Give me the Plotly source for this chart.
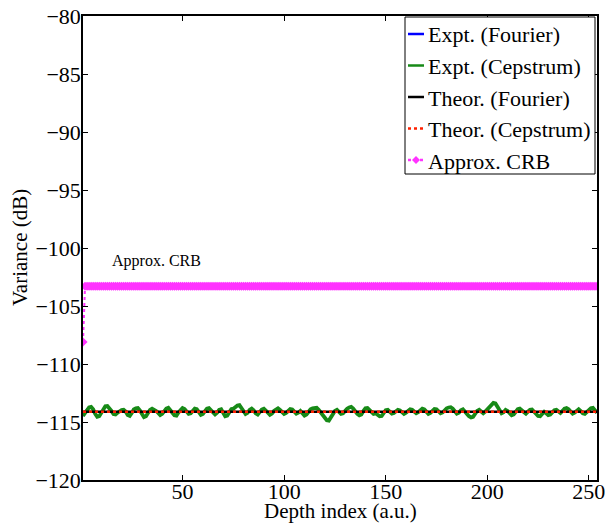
import plotly.graph_objects as go

depth_index = list(range(1, 255))

expt_cepstrum = [
    -114.48, -114.20, -113.90, -113.75, -113.70, -113.90, -114.30, -114.55, -114.50, -114.20,
    -113.90, -113.65, -113.62, -113.80, -114.05, -114.32, -114.35, -114.20, -114.08, -113.98,
    -113.95, -114.10, -114.40, -114.47, -114.22, -113.92, -113.82, -113.80, -114.00, -114.35,
    -114.58, -114.50, -114.20, -113.95, -113.85, -113.92, -114.05, -114.22, -114.40, -114.30,
    -114.05, -113.85, -113.78, -113.95, -114.20, -114.42, -114.45, -114.18, -113.92, -113.80,
    -113.88, -114.10, -114.30, -114.25, -114.00, -113.85, -113.90, -114.15, -114.38, -114.30,
    -114.02, -113.85, -113.80, -113.98, -114.22, -114.35, -114.20, -113.95, -113.90, -114.20,
    -114.50, -114.45, -114.15, -113.90, -113.85, -113.70, -113.58, -113.55, -113.75, -114.05,
    -114.30, -114.20, -113.95, -113.85, -114.00, -114.25, -114.35, -114.15, -113.92, -113.85,
    -113.98, -114.20, -114.38, -114.28, -114.05, -113.88, -113.82, -113.95, -114.15, -114.30,
    -114.22, -114.00, -113.88, -113.92, -114.12, -114.28, -114.20, -114.05, -114.25, -114.45,
    -114.35, -114.08, -113.90, -113.82, -113.80, -113.78, -113.95, -114.20, -114.45, -114.70,
    -114.85, -114.88, -114.60, -114.30, -114.05, -113.95, -114.08, -114.30, -114.25, -114.00,
    -113.85, -113.75, -113.70, -113.85, -114.10, -114.30, -114.42, -114.35, -114.05, -113.82,
    -113.80, -113.95, -114.15, -114.30, -114.25, -114.35, -114.50, -114.48, -114.20, -113.98,
    -113.95, -114.12, -114.28, -114.22, -114.05, -113.95, -114.00, -114.18, -114.30, -114.20,
    -114.00, -113.90, -113.95, -114.12, -114.25, -114.15, -113.95, -113.85, -113.92, -114.15,
    -114.30, -114.22, -114.02, -113.88, -113.90, -114.08, -114.25, -114.18, -113.95, -113.82,
    -113.75, -113.72, -113.85, -114.08, -114.28, -114.20, -113.98, -113.90, -114.05, -114.30,
    -114.50, -114.60, -114.55, -114.30, -114.05, -113.95, -114.10, -114.25, -114.10, -113.90,
    -113.70, -113.50, -113.35, -113.40, -113.70, -114.05, -114.25, -114.15, -113.95, -114.05,
    -114.30, -114.42, -114.35, -114.10, -113.90, -113.85, -114.00, -114.20, -114.28, -114.10,
    -113.95, -113.92, -114.10, -114.35, -114.48, -114.50, -114.30, -114.12, -114.25, -114.40,
    -114.35, -114.15, -113.98, -113.95, -114.10, -114.22, -114.05, -113.85, -113.80, -113.90,
    -114.10, -114.28, -114.20, -114.00, -113.90, -114.05, -114.25, -114.30, -114.10, -113.92,
    -113.82, -113.78, -113.95, -114.20,
]
expt_fourier = list(expt_cepstrum)

theor_level = -114.12
theor_fourier = [theor_level] * len(depth_index)
theor_cepstrum = [theor_level] * len(depth_index)

crb_first = -108.1
crb_level = -103.3
approx_crb = [crb_first] + [crb_level] * (len(depth_index) - 1)

y_ticks = [-120, -115, -110, -105, -100, -95, -90, -85, -80]
x_ticks = [50, 100, 150, 200, 250]

series_names = ["Expt. (Fourier)", "Expt. (Cepstrum)", "Theor. (Fourier)",
                "Theor. (Cepstrum)", "Approx. CRB"]
series_colors = ["#0000ff", "#178a17", "black", "#ff2000", "#ff33ff"]
series_dash = ["solid", "solid", "solid", "dot", "dot"]

FONT = "Liberation Serif, Times New Roman, serif"
MINUS = "\u2212"

W, H = 605, 525
ML, MR, MT, MB = 83, 8, 16, 45
PW, PH = W - ML - MR, H - MT - MB


def px(xp):
    return (xp - ML) / PW


def py(yp):
    return (H - MB - yp) / PH


fig = go.Figure()
fig.add_trace(go.Scatter(x=depth_index, y=expt_fourier, mode="lines",
                         name=series_names[0], line=dict(color=series_colors[0], width=2)))
fig.add_trace(go.Scatter(x=depth_index, y=expt_cepstrum, mode="lines",
                         name=series_names[1], line=dict(color=series_colors[1], width=3.8)))
fig.add_trace(go.Scatter(x=depth_index, y=theor_fourier, mode="lines",
                         name=series_names[2], line=dict(color=series_colors[2], width=2.5)))
fig.add_trace(go.Scatter(x=depth_index, y=theor_cepstrum, mode="lines",
                         name=series_names[3], line=dict(color=series_colors[3], width=2.5, dash="dot")))
fig.add_trace(go.Scatter(x=depth_index, y=approx_crb, mode="lines+markers",
                         name=series_names[4],
                         line=dict(color=series_colors[4], width=2, dash="dot"),
                         marker=dict(symbol="diamond", size=7, color=series_colors[4])))

fig.add_annotation(x=37, y=-101.1, text="Approx. CRB", showarrow=False,
                   font=dict(family=FONT, size=16, color="black"))

# axis titles
fig.add_annotation(xref="paper", yref="paper", x=0.5, y=py(524.5), yanchor="bottom",
                   text="Depth index (a.u.)", showarrow=False,
                   font=dict(family=FONT, size=21, color="black"))
fig.add_annotation(xref="paper", yref="paper", x=px(20), y=0.5, xanchor="center",
                   textangle=-90, text="Variance (dB)", showarrow=False,
                   font=dict(family=FONT, size=21, color="black"))

# legend box drawn in paper coordinates
fig.add_shape(type="rect", xref="paper", yref="paper",
              x0=px(405), x1=px(595), y0=py(174), y1=py(17),
              fillcolor="white", line=dict(color="black", width=1), layer="above")
entry_y = [34, 65.5, 97, 128.5, 160]
for name, col, dash, yy in zip(series_names, series_colors, series_dash, entry_y):
    fig.add_shape(type="line", xref="paper", yref="paper",
                  x0=px(408), x1=px(424), y0=py(yy), y1=py(yy),
                  line=dict(color=col, width=2.5, dash=dash), layer="above")
    fig.add_annotation(xref="paper", yref="paper", x=px(426), y=py(yy + 1),
                       xanchor="left", yanchor="middle", text=name, showarrow=False,
                       font=dict(family=FONT, size=22, color="black"))
# diamond marker on CRB legend key
cx, cy, r = 416, entry_y[4], 4
fig.add_shape(type="path", xref="paper", yref="paper",
              path=f"M {px(cx - r)} {py(cy)} L {px(cx)} {py(cy - r)} L {px(cx + r)} {py(cy)} "
                   f"L {px(cx)} {py(cy + r)} Z",
              fillcolor=series_colors[4], line=dict(color=series_colors[4], width=0),
              layer="above")

axis_common = dict(showgrid=False, zeroline=False, showline=True, linecolor="black",
                   linewidth=1.5, mirror="ticks", ticks="inside", ticklen=5,
                   tickcolor="black", tickwidth=1, automargin=False,
                   ticklabeloverflow="allow",
                   tickfont=dict(family=FONT, size=22, color="black"))

fig.update_xaxes(range=[1, 254], tickvals=x_ticks, ticktext=[str(v) for v in x_ticks],
                 ticklabelstandoff=-9, **axis_common)
fig.update_yaxes(range=[-120, -80], tickvals=y_ticks,
                 ticktext=[str(v).replace("-", MINUS) for v in y_ticks],
                 ticklabelstandoff=-4, **axis_common)

fig.update_layout(
    width=W, height=H,
    margin=dict(l=ML, r=MR, t=MT, b=MB, autoexpand=False),
    paper_bgcolor="white", plot_bgcolor="white",
    showlegend=False,
)

fig.write_html("out.html", config={"displayModeBar": False},
               post_script="document.body.style.margin='0px';document.body.style.padding='0px';")
